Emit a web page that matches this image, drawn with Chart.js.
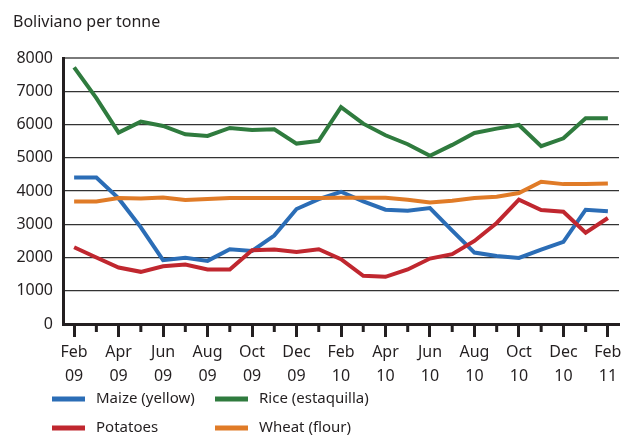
<!DOCTYPE html>
<html>
<head>
<meta charset="utf-8">
<script src="https://cdn.jsdelivr.net/npm/chart.js@4"></script>
<style>
  body { margin: 0; background: #fff; }
  #wrap { width: 632px; height: 437px; position: relative; }
</style>
</head>
<body>
<div id="wrap"><canvas id="myChart"></canvas></div>
<script>
const months = ['Feb 09', 'Mar 09', 'Apr 09', 'May 09', 'Jun 09', 'Jul 09', 'Aug 09', 'Sep 09', 'Oct 09', 'Nov 09', 'Dec 09', 'Jan 10',
	'Feb 10', 'Mar 10', 'Apr 10', 'May 10', 'Jun 10', 'Jul 10', 'Aug 10', 'Sep 10', 'Oct 10', 'Nov 10', 'Dec 10', 'Jan 11', 'Feb 11'];
const maize = [4410, 4410, 3780, 2910, 1920, 1990, 1900, 2250, 2200, 2660, 3460, 3760, 3980, 3690, 3440, 3410, 3490, 2810, 2150, 2050, 1990, 2240, 2470, 3440, 3390];
const rice = [7725, 6800, 5760, 6090, 5960, 5710, 5660, 5900, 5840, 5860, 5430, 5510, 6530, 6030, 5680, 5410, 5060, 5390, 5750, 5880, 5990, 5350, 5590, 6190, 6190];
const potatoes = [2310, 2000, 1700, 1570, 1740, 1790, 1640, 1640, 2220, 2240, 2170, 2250, 1950, 1450, 1420, 1640, 1970, 2100, 2500, 3040, 3740, 3430, 3380, 2750, 3190];
const wheat = [3690, 3690, 3790, 3780, 3810, 3730, 3760, 3790, 3790, 3790, 3790, 3790, 3800, 3800, 3800, 3740, 3660, 3710, 3790, 3830, 3940, 4280, 4210, 4210, 4230];
const yTicks = [0, 1000, 2000, 3000, 4000, 5000, 6000, 7000, 8000];

const ink = '#231f20';
const fontName = '"Noto Sans", sans-serif';

// short ticks between the labelled months
const minorTicks = {
	id: 'minorTicks',
	afterDraw(chart) {
		const x = chart.scales.x;
		const ctx = chart.ctx;
		ctx.save();
		ctx.strokeStyle = ink;
		ctx.lineWidth = 3;
		for (let i = 1; i < months.length; i += 2) {
			const px = x.getPixelForValue(i);
			ctx.beginPath();
			ctx.moveTo(px, x.top);
			ctx.lineTo(px, x.top + 8);
			ctx.stroke();
		}
		ctx.restore();
	}
};

// two-column legend like the original
const sideLegend = {
	id: 'sideLegend',
	afterDraw(chart) {
		const ctx = chart.ctx;
		const spots = [[52, 399], [215, 399], [52, 428], [215, 428]];
		ctx.save();
		ctx.font = '15px ' + fontName;
		ctx.textBaseline = 'middle';
		chart.data.datasets.forEach(function (ds, i) {
			const s = spots[i];
			ctx.fillStyle = ds.borderColor;
			ctx.fillRect(s[0], s[1] - 2.5, 33, 5);
			ctx.fillStyle = ink;
			ctx.fillText(ds.label, s[0] + 44, s[1]);
		});
		ctx.restore();
	}
};

new Chart(document.getElementById('myChart'), {
	type: 'line',
	data: {
		labels: months,
		datasets: [
			{ label: 'Maize (yellow)', data: maize, borderColor: '#2b6db6', order: 3 },
			{ label: 'Rice (estaquilla)', data: rice, borderColor: '#2f7b3e', order: 1 },
			{ label: 'Potatoes', data: potatoes, borderColor: '#c0272f', order: 2 },
			{ label: 'Wheat (flour)', data: wheat, borderColor: '#e07b27', order: 0 }
		]
	},
	options: {
		responsive: true,
		maintainAspectRatio: false,
		animation: false,
		layout: { padding: { left: 13, right: 13, top: 0, bottom: 46 } },
		elements: {
			line: { borderWidth: 4, tension: 0, borderCapStyle: 'butt' },
			point: { radius: 0 }
		},
		plugins: {
			legend: { display: false },
			tooltip: { enabled: false },
			title: {
				display: true,
				text: 'Boliviano per tonne',
				align: 'start',
				color: ink,
				font: { family: fontName, size: 16, weight: 'normal' },
				padding: { top: 13, bottom: 26 }
			}
		},
		scales: {
			x: {
				offset: true,
				border: { color: ink, width: 3 },
				grid: {
					offset: false,
					drawOnChartArea: false,
					tickLength: 13,
					tickWidth: 3,
					tickColor: c => (c.index % 2 ? 'rgba(0,0,0,0)' : ink)
				},
				ticks: {
					autoSkip: false,
					maxRotation: 0,
					padding: 3,
					color: ink,
					font: { family: fontName, size: 16, lineHeight: 1.5 },
					callback: function (v, i) {
						return i % 2 ? '' : months[i].split(' ');
					}
				}
			},
			y: {
				min: 0,
				max: 8000,
				afterBuildTicks: function (axis) {
					axis.ticks = yTicks.map(v => ({ value: v }));
				},
				afterFit: function (axis) {
					axis.width = 50;
				},
				border: { color: ink, width: 3 },
				grid: {
					drawTicks: false,
					color: c => (c.tick.value === 8000 ? '#7a7a7a' : '#333'),
					lineWidth: c => (c.tick.value === 8000 ? 2 : 1.3)
				},
				ticks: {
					padding: 10,
					color: ink,
					font: { family: fontName, size: 16 },
					callback: v => String(v)
				}
			}
		}
	},
	plugins: [minorTicks, sideLegend]
});
</script>
</body>
</html>
